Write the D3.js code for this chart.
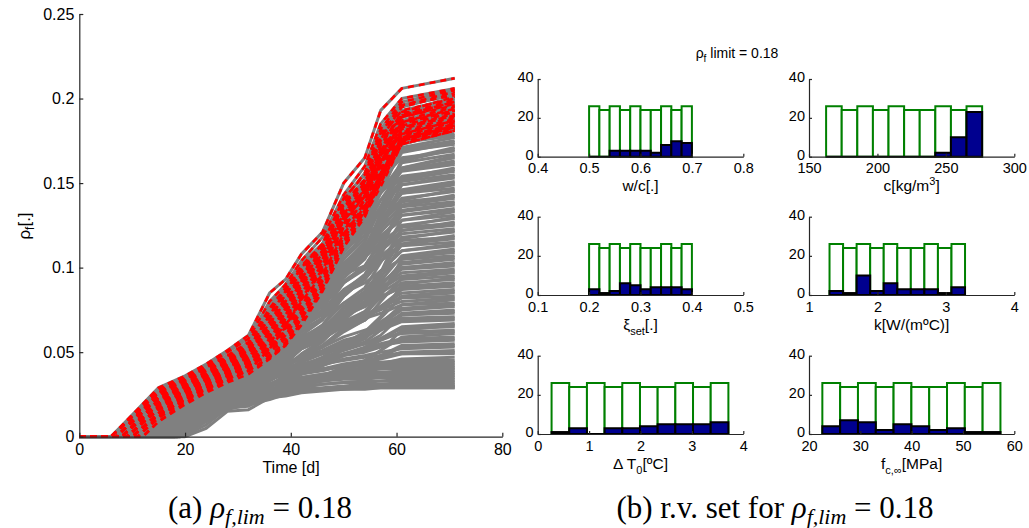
<!DOCTYPE html>
<html>
<head>
<meta charset="utf-8">
<script src="https://cdn.jsdelivr.net/npm/d3@7/dist/d3.min.js"></script>
<style>
  html,body{margin:0;padding:0;background:#fff;}
  svg{display:block;}
</style>
</head>
<body>
<svg id="chart" width="1029" height="528"></svg>
<script>
// ======================= DATA =======================
// Left panel: simulated crack-probability histories rho_f(t)
const knotDays  = [15,20,24,28,32,36,39,42,46,50,54,57,61,71];
const timeTicks = [0,20,40,60,80];
const rhoTicks  = [0,0.05,0.1,0.15,0.2,0.25];
const rhoLimit  = 0.18;
// each run: [onset day, rho_f x 1000 at knotDays...]
const failedRuns = [
  [6,29,36,43,51,60,85,93,108,121,150,165,193,206,212],
  [6,28,35,42,50,58,80,90,104,118,143,160,185,200,206],
  [7,26,34,41,48,56,76,88,101,114,140,156,182,198,205],
  [6,27,33,39,46,53,70,84,98,112,138,152,178,196,204],
  [8,22,30,37,44,50,66,80,95,110,135,150,176,195,203],
  [7,25,32,38,45,52,72,86,100,114,141,155,180,196,202],
  [9,18,27,34,41,47,62,76,92,108,132,148,172,192,201],
  [6,28,35,41,47,55,74,87,99,113,138,152,177,193,200],
  [8,21,29,36,43,49,64,78,93,109,134,149,173,191,199],
  [10,14,24,31,38,44,58,72,88,105,130,146,170,190,198],
  [7,24,31,37,43,50,68,82,96,110,136,150,174,190,198],
  [9,17,26,33,39,45,57,70,86,103,128,145,168,189,197],
  [6,27,34,40,46,53,71,84,97,111,137,151,175,189,196],
  [8,20,28,35,41,47,60,74,90,106,130,146,169,187,195],
  [11,12,22,29,36,42,54,68,85,102,126,143,166,186,194],
  [7,23,30,36,42,48,63,77,92,107,131,146,169,186,193],
  [9,16,25,32,38,44,56,70,87,104,128,144,166,185,193],
  [8,19,27,34,40,46,59,73,89,105,129,144,167,184,192],
  [10,14,23,30,36,42,53,66,83,100,124,140,163,183,191],
  [6,26,33,39,45,51,67,80,94,108,132,146,168,183,190],
  [12,9,20,27,33,39,52,65,82,99,122,138,161,182,190],
  [8,21,29,35,41,47,61,75,90,105,128,143,165,181,189],
  [9,17,25,32,37,43,55,68,85,101,124,140,162,180,188],
  [7,24,31,37,43,49,64,77,91,105,128,142,163,179,187],
  [10,13,22,29,35,40,52,64,81,98,120,137,159,179,187],
  [8,20,28,34,40,46,52,60,74,92,118,136,158,178,186],
  [9,16,24,31,37,42,48,56,70,88,115,134,156,177,185],
  [11,11,21,28,34,39,47,54,66,86,112,132,154,177,185],
  [7,23,30,36,42,47,56,66,80,96,120,136,156,176,184],
  [10,14,23,30,35,41,50,58,72,90,116,133,154,176,184],
  [8,19,27,33,39,44,52,62,76,93,118,135,154,175,183],
  [12,9,19,26,32,37,46,54,68,87,112,130,151,175,183],
  [9,17,25,31,37,42,50,60,74,92,116,133,152,174,182],
  [8,20,27,33,38,44,53,63,78,95,118,133,150,173,181],
  [10,13,22,28,34,39,47,55,70,89,114,131,148,173,181]
];
const safeRuns = [
  [9,18,27,34,40,45,65,74,88,100,123,136,155,174,179],
  [10.5,12,22,28,33,38,66,80,94,108,130,143,158,174,178],
  [8.5,20,29,36,43,50,65,73,83,93,111,124,144,171,177],
  [10,15,24,31,37,42,62,71,85,97,119,132,151,170,175],
  [13,5,15,21,26,30,52,62,76,89,114,128,148,168,174],
  [7,25,33,40,47,54,78,90,102,114,133,143,156,169,173],
  [11.5,9,20,27,33,38,54,62,73,83,102,115,136,164,171],
  [8,21,29,36,43,50,62,68,76,86,100,112,129,163,170],
  [9.5,17,26,33,39,45,70,82,95,107,127,138,152,165,169],
  [10.5,13,23,30,36,42,61,70,82,93,115,127,145,162,167],
  [12,8,18,25,30,34,50,58,68,79,97,111,132,159,166],
  [8,22,30,37,44,50,64,71,80,89,105,117,135,159,165],
  [12,8,18,25,30,34,53,62,75,87,109,122,140,158,163],
  [10,15,24,31,37,42,72,88,102,114,128,137,145,158,162],
  [9,17,25,32,38,43,66,78,90,102,121,131,144,157,161],
  [8,20,28,35,41,46,59,66,75,84,100,111,129,153,159],
  [15,0,11,18,23,27,53,66,79,93,113,125,140,154,158],
  [11,11,21,28,33,38,56,64,76,87,107,119,136,152,157],
  [7.5,23,31,38,45,51,66,73,84,93,111,121,136,151,155],
  [9,18,27,34,40,45,58,65,73,82,97,108,126,149,154],
  [13,5,15,21,26,30,55,67,79,92,111,122,136,149,153],
  [10,16,25,32,37,41,55,62,70,79,94,105,123,146,151],
  [17,0,7,13,19,23,42,51,64,75,97,109,127,145,150],
  [12.5,6,17,24,29,33,51,59,71,81,101,112,128,144,149],
  [9,19,28,35,41,46,65,76,86,96,112,122,133,144,147],
  [11,11,21,28,33,38,49,54,62,70,83,94,109,140,146],
  [10.5,12,22,29,34,39,54,62,72,82,100,111,126,141,145],
  [14,2,13,19,24,28,41,48,57,66,83,94,113,137,143],
  [13,5,15,21,26,30,58,73,86,97,111,119,126,139,142],
  [11,12,22,29,35,40,57,64,74,83,99,109,123,137,141],
  [13,6,16,23,29,33,55,66,76,87,103,113,124,136,139],
  [10,15,24,31,37,42,56,63,73,81,98,107,121,134,138],
  [8,21,30,36,43,49,60,66,73,80,92,101,114,133,137],
  [13.5,4,14,20,26,31,46,53,64,73,91,101,116,131,135],
  [18,0,4,11,19,21,44,55,66,78,96,106,118,131,134],
  [11,10,20,27,32,37,49,55,63,70,84,93,108,128,133],
  [9.5,16,25,32,37,42,60,69,78,87,101,109,119,128,131],
  [12,8,18,25,30,34,44,48,55,63,74,84,97,124,130],
  [15.5,0,10,17,22,26,42,49,60,69,86,96,111,125,129],
  [12,9,19,26,31,35,45,51,58,66,79,88,103,122,127],
  [9,18,27,34,40,45,61,69,77,86,98,106,115,124,126],
  [9.5,16,26,33,39,44,57,63,71,78,91,99,111,122,125],
  [12.5,6,16,22,27,31,49,58,67,77,91,100,110,120,123],
  [15,0,11,18,23,27,38,44,52,59,73,82,97,117,122],
  [11,11,21,27,32,36,50,56,65,72,86,94,106,118,121],
  [16,0,9,15,20,24,34,40,48,56,69,79,94,114,119],
  [11,11,21,28,33,38,58,68,78,86,96,101,107,116,118],
  [10.5,14,23,30,35,40,53,58,66,73,85,93,104,114,117],
  [11.5,9,19,25,30,34,50,58,66,75,87,95,104,113,115],
  [17,0,7,13,19,23,37,43,52,60,76,85,98,110,114],
  [14.5,1,12,18,22,26,40,46,55,62,77,86,98,110,113],
  [11,11,20,27,32,36,47,51,57,63,73,80,92,107,111],
  [13,5,15,21,26,30,38,42,48,54,64,72,83,105,110],
  [13,5,14,20,25,29,42,47,55,62,76,84,95,106,109],
  [10,15,23,30,35,40,55,61,68,74,85,91,98,105,107],
  [10,15,24,31,37,42,50,54,59,64,73,79,89,103,106],
  [17.5,0,6,12,18,22,35,41,49,57,71,79,90,102,105],
  [12,8,17,23,28,32,42,46,52,57,67,74,85,100,103],
  [18,0,4,11,19,21,41,52,62,70,79,85,91,100,102],
  [15,0,11,17,22,26,42,49,57,64,76,82,91,99,101],
  [11.5,9,19,26,31,35,47,51,58,63,73,80,88,97,99],
  [12,8,18,25,30,34,44,48,55,60,71,78,87,95,98],
  [13.5,4,13,19,24,28,38,42,47,53,62,69,80,94,97],
  [16.5,0,8,14,19,23,37,45,52,59,71,77,85,93,95],
  [15,0,11,18,23,27,34,37,42,47,55,62,71,90,94],
  [12.5,7,16,22,27,31,43,47,53,58,68,74,82,91,93],
  [15,0,10,16,21,25,43,51,59,65,73,78,82,89,91],
  [11,11,21,28,33,38,48,54,59,64,72,77,83,88,90],
  [10.5,13,22,28,33,37,48,50,54,58,65,69,77,87,89],
  [14,3,12,18,23,27,39,43,48,53,63,69,77,85,87],
  [17,0,7,13,19,23,31,34,39,44,53,60,70,83,86],
  [17,0,7,12,17,21,39,47,54,60,68,72,76,83,85],
  [12,8,17,24,29,33,47,52,56,61,68,72,77,82,83],
  [13,5,15,21,26,30,43,50,56,61,67,71,75,80,82],
  [15.5,0,9,15,20,24,34,37,41,45,53,58,67,78,81],
  [12,8,17,23,28,31,45,51,57,61,66,70,73,78,79],
  [18,0,4,11,19,21,30,34,39,44,54,60,68,76,78],
  [18,0,5,12,19,22,27,31,37,42,52,58,66,75,77],
  [13,5,14,19,23,27,35,38,42,45,52,56,63,73,75],
  [12,8,18,25,30,34,38,40,43,46,51,55,60,72,74],
  [17.5,0,6,12,17,21,36,42,48,53,59,63,66,72,73],
  [12.5,6,15,21,26,30,38,42,47,51,57,60,65,70,71],
  [15,0,11,18,23,27,36,40,44,49,55,59,64,69,70],
  [16,0,8,14,19,22,33,39,45,50,56,60,63,68,69],
  [13,5,14,20,25,28,34,37,41,44,49,53,58,65,67],
  [17,0,7,13,19,23,27,30,33,36,41,45,51,63,66],
  [18,0,4,11,19,21,30,36,42,46,52,55,58,64,65],
  [14,3,11,17,22,25,30,33,38,42,48,52,57,62,63],
  [13,5,15,21,26,30,38,42,46,49,53,55,58,61,62],
  [17,0,7,13,19,23,28,30,33,36,41,45,51,59,61],
  [16.5,0,6,12,18,21,30,35,40,44,49,52,55,58,59],
  [18,0,4,11,19,21,30,35,40,43,48,50,53,57,58],
  [14,3,12,18,23,26,33,38,42,45,49,51,54,56,57],
  [18.5,0,3,10,18,20,24,26,30,33,40,43,48,54,55],
  [15,0,11,18,23,27,30,32,34,36,40,43,47,53,54],
  [15,0,10,16,21,24,31,35,39,42,46,48,50,52,53],
  [17,0,7,13,19,23,30,34,37,40,43,45,47,50,51],
  [17,0,7,13,19,23,30,33,37,39,42,44,46,49,50],
  [15.5,0,9,15,20,24,31,36,40,43,45,47,48,49,49],
  [18,0,4,11,19,21,25,29,33,35,39,41,43,46,47],
  [16,0,8,14,19,22,29,34,38,40,42,44,44,45,45],
  [17,0,7,13,19,23,30,35,38,40,42,43,43,44,44],
  [14.5,1,11,17,22,25,31,35,38,40,41,42,42,43,43],
  [18.5,0,3,10,18,20,26,31,35,37,39,40,41,42,42],
  [17.5,0,6,11,17,21,27,32,35,37,39,40,40,41,41],
  [16,0,8,14,19,22,28,31,34,36,38,39,40,40,40],
  [18,0,4,11,19,21,25,30,33,35,37,38,38,39,39],
  [18,0,4,10,17,20,26,30,33,35,36,37,37,38,38],
  [17.5,0,5,11,18,20,24,28,31,33,35,36,36,37,37],
  [16.5,0,6,12,18,21,27,30,32,34,35,35,36,36,36],
  [17,0,7,13,19,23,27,30,31,33,34,34,35,35,35],
  [18.5,0,3,10,18,20,24,27,29,31,32,33,33,34,34],
  [18.5,0,3,9,16,19,25,28,30,31,32,32,33,33,33],
  [18,0,4,10,17,19,22,25,28,29,30,31,31,32,32],
  [19,0,2,9,17,19,23,25,27,28,29,30,31,31,31],
  [18,0,3,10,19,21,25,27,28,28,29,30,30,30,30],
  [19,0,2,9,18,20,25,26,27,28,29,29,30,30,30],
  [19,0,1,7,17,18,24,25,27,28,28,29,29,29,29],
  [20,0,0,5,15,16,23,24,26,27,28,28,29,29,29]
];

// Right panel: random-variable histograms (all samples vs. runs above the limit)
const countTicks   = [0,20,40];
const sampleCounts = [26,24,26,24,26,24,24,26,24,26];
const wcTicks = [0.4,0.5,0.6,0.7,0.8],  wcBins = [0.5,0.7],      wcFail = [0,0,3,3,3,3,2,6,8,7];
const cTicks  = [150,200,250,300],      cBins  = [162.5,276.5],  cFail  = [0,0,0,0,0,0,0,2,10,23];
const xiTicks = [0.1,0.2,0.3,0.4,0.5],  xiBins = [0.2,0.4],      xiFail = [3,1,2,6,5,3,4,4,4,3];
const kTicks  = [1,2,3,4],              kBins  = [1.3,3.28],     kFail  = [2,1,10,2,6,3,3,3,1,4];
const dtTicks = [0,1,2,3,4],            dtBins = [0.27,3.71],    dtFail = [1,3,0,3,3,4,5,5,5,6];
const fcTicks = [20,30,40,50,60],       fcBins = [22.6,57.3],    fcFail = [4,7,6,2,5,4,2,3,1,1];

// ======================= DRAWING =======================
const svg = d3.select("#chart");
const SANS  = "'Liberation Sans', Arial, Helvetica, sans-serif";
const SERIF = "'Liberation Serif', 'Times New Roman', serif";
const AX = "#262626";
const fmt = d => String(+(+d).toFixed(2));

// ---- left chart ----
const xT = d3.scaleLinear().domain([0,80]).range([79.3,502.3]);
const yR = d3.scaleLinear().domain([0,0.25]).range([436.7,14]);
const toPoints = r => {
  const s = r[0], p = [[0,0],[s,0]];
  knotDays.forEach((t,i) => { if (t > s) p.push([t, r[i+1]/1000]); });
  return p;
};
const runLine = d3.line().x(d => xT(d[0])).y(d => yR(d[1]));

const gl = svg.append("g");
gl.selectAll("path.run").data(safeRuns.concat(failedRuns)).join("path")
  .attr("class","run")
  .attr("d", r => runLine(toPoints(r)))
  .attr("fill","none").attr("stroke","#808080")
  .attr("stroke-width",3).attr("stroke-linejoin","round");
gl.selectAll("path.fail").data(failedRuns.filter(r => r[r.length-1]/1000 > rhoLimit)).join("path")
  .attr("class","fail")
  .attr("d", r => runLine(toPoints(r)))
  .attr("fill","none").attr("stroke","#ff0000")
  .attr("stroke-width",2.6).attr("stroke-dasharray","6,5").attr("stroke-linejoin","round");

function styleAxis(a, size) {
  a.attr("font-family", SANS).attr("font-size", size);
  a.selectAll("path,line").attr("stroke", AX).attr("stroke-width", 1.2);
  a.selectAll("text").attr("fill", "#000");
}
const axL = svg.append("g").attr("transform",`translate(${xT(0)},0)`)
  .call(d3.axisLeft(yR).tickValues(rhoTicks).tickFormat(fmt)
        .tickSizeInner(-4).tickSizeOuter(0).tickPadding(5));
const axB = svg.append("g").attr("transform",`translate(0,${yR(0)})`)
  .call(d3.axisBottom(xT).tickValues(timeTicks).tickFormat(fmt)
        .tickSizeInner(-4).tickSizeOuter(0).tickPadding(7));
styleAxis(axL,16); styleAxis(axB,16);

const yl = svg.append("text").attr("transform","translate(30,226) rotate(-90)")
  .attr("text-anchor","middle").attr("font-family",SANS).attr("font-size",17);
yl.append("tspan").text("ρ");
yl.append("tspan").attr("font-size",12).attr("dy",4).text("f");
yl.append("tspan").attr("dy",-4).text("[.]");

svg.append("text").attr("x",291).attr("y",473).attr("text-anchor","middle")
  .attr("font-family",SANS).attr("font-size",16).text("Time [d]");

// ---- histograms ----
const rowsY = [[156.7,79],[295,216.7],[434,355.7]];
const colsX = [[537.7,743.3],[809,1014.3]];
const panels = [
  {col:0,row:0,domain:[0.4,0.8],ticks:wcTicks,bins:wcBins,fail:wcFail,label:[["w/c[.]"]]},
  {col:1,row:0,domain:[150,300],ticks:cTicks, bins:cBins, fail:cFail, label:[["c[kg/m"],["3","sup"],["]"]]},
  {col:0,row:1,domain:[0.1,0.5],ticks:xiTicks,bins:xiBins,fail:xiFail,label:[["ξ"],["set","sub"],["[.]"]]},
  {col:1,row:1,domain:[1,4],    ticks:kTicks, bins:kBins, fail:kFail, label:[["k[W/(mºC)]"]]},
  {col:0,row:2,domain:[0,4],    ticks:dtTicks,bins:dtBins,fail:dtFail,label:[["Δ T"],["0","sub"],["[ºC]"]]},
  {col:1,row:2,domain:[20,60],  ticks:fcTicks,bins:fcBins,fail:fcFail,label:[["f"],["c,∞","sub"],["[MPa]"]]}
];

panels.forEach(p => {
  const xs = d3.scaleLinear().domain(p.domain).range(colsX[p.col]);
  const ys = d3.scaleLinear().domain([0,40]).range(rowsY[p.row]);
  const n = sampleCounts.length;
  const w = (p.bins[1]-p.bins[0])/n;
  const barPath = (c,i) => {
    const x0 = xs(p.bins[0]+i*w), x1 = xs(p.bins[0]+(i+1)*w), y0 = ys(0), y1 = ys(c);
    return `M${x0},${y0}V${y1}H${x1}V${y0}Z`;
  };
  const g = svg.append("g");
  g.selectAll("path.all").data(sampleCounts).join("path").attr("class","all")
    .attr("d",barPath).attr("fill","#fff").attr("stroke","#008000").attr("stroke-width",2);
  g.selectAll("path.failb").data(p.fail).join("path").attr("class","failb")
    .attr("d",barPath).attr("fill","#00008f").attr("stroke","#000").attr("stroke-width",2);

  const ay = svg.append("g").attr("transform",`translate(${xs(p.domain[0])},0)`)
    .call(d3.axisLeft(ys).tickValues(countTicks).tickFormat(fmt)
          .tickSizeInner(-3).tickSizeOuter(0).tickPadding(4));
  ay.selectAll(".tick text").attr("dy","0.2em");
  const ax = svg.append("g").attr("transform",`translate(0,${ys(0)})`)
    .call(d3.axisBottom(xs).tickValues(p.ticks).tickFormat(fmt)
          .tickSizeInner(-3).tickSizeOuter(0).tickPadding(6.5));
  styleAxis(ay,14.5); styleAxis(ax,14.5);

  const cx = (colsX[p.col][0]+colsX[p.col][1])/2;
  const t = svg.append("text").attr("x",cx).attr("y",rowsY[p.row][0]+34.5)
    .attr("text-anchor","middle").attr("font-family",SANS).attr("font-size",15.5);
  let shift = 0;
  p.label.forEach(([txt,kind]) => {
    const want = kind==="sub" ? 5 : kind==="sup" ? -6 : 0;
    const ts = t.append("tspan").attr("dy", want-shift).text(txt);
    if (kind) ts.attr("font-size",11);
    shift = want;
  });
});

// histogram title
const ht = svg.append("text").attr("x",737).attr("y",58).attr("text-anchor","middle")
  .attr("font-family",SANS).attr("font-size",14);
ht.append("tspan").text("ρ");
ht.append("tspan").attr("font-size",10).attr("dy",4).text("f");
ht.append("tspan").attr("dy",-4).text(" limit = " + rhoLimit);

// ---- captions ----
function caption(x, prefix) {
  const c = svg.append("text").attr("x",x).attr("y",518).attr("text-anchor","middle")
    .attr("font-family",SERIF).attr("font-size",31);
  c.append("tspan").text(prefix);
  c.append("tspan").attr("font-style","italic").text("ρ");
  c.append("tspan").attr("font-style","italic").attr("font-size",22).attr("dy",6).text("f,lim");
  c.append("tspan").attr("dy",-6).text(" = " + rhoLimit);
}
caption(260, "(a) ");
caption(775, "(b) r.v. set for ");
</script>
</body>
</html>
